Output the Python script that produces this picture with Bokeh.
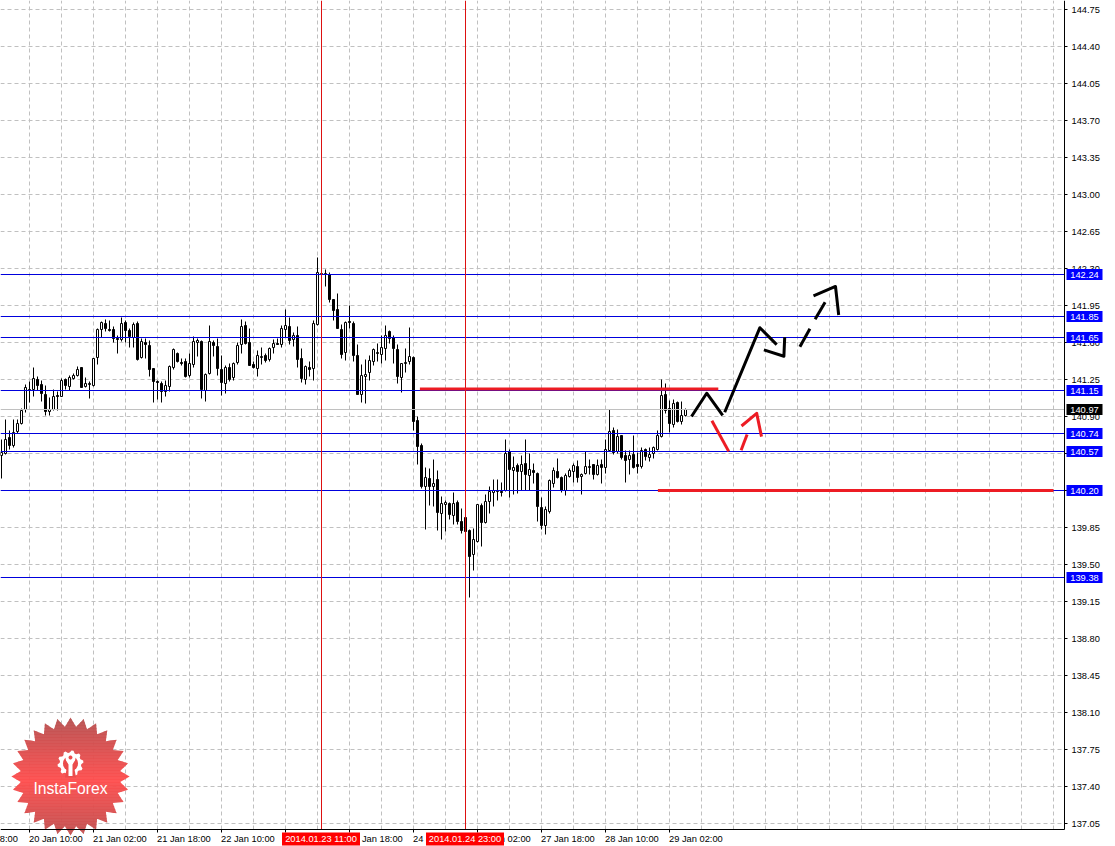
import math
from bokeh.plotting import figure
from bokeh.embed import file_html
from bokeh.resources import INLINE
from bokeh.core.properties import value
from bokeh.models import (FixedTicker, LinearAxis, Range1d, PrintfTickFormatter)

highs = [140.68,140.87,140.77,140.87,140.87,140.98,141.20,141.23,141.36,141.28,
141.24,141.19,141.08,141.16,141.14,141.26,141.26,141.29,141.31,141.37,
141.36,141.27,141.23,141.45,141.73,141.80,141.82,141.81,141.75,141.67,
141.84,141.81,141.73,141.79,141.80,141.64,141.64,141.62,141.35,141.24,
141.23,141.24,141.38,141.54,141.51,141.45,141.45,141.50,141.66,141.64,
141.62,141.31,141.76,141.62,141.64,141.48,141.38,141.40,141.41,141.60,
141.82,141.80,141.73,141.42,141.52,141.55,141.50,141.55,141.63,141.64,
141.76,141.91,141.84,141.69,141.75,141.54,141.38,141.42,141.81,142.40,
142.28,142.29,142.26,142.01,142.06,141.77,141.80,141.95,141.80,141.58,
141.39,141.44,141.48,141.54,141.59,141.67,141.76,141.71,141.67,141.58,
141.40,141.54,141.74,141.47,140.90,140.64,140.42,140.41,140.49,140.39,
140.14,140.11,140.09,140.18,140.11,140.03,139.94,139.83,139.84,140.07,
140.08,140.16,140.24,140.30,140.30,140.28,140.68,140.59,140.52,140.46,
140.53,140.68,140.55,140.46,140.37,140.13,140.05,140.30,140.42,140.50,
140.33,140.36,140.41,140.46,140.48,140.36,140.57,140.49,140.45,140.49,
140.49,140.68,140.97,140.80,140.78,140.72,140.58,140.58,140.72,140.56,
140.61,140.60,140.61,140.62,140.77,141.25,141.21,141.05,141.06,141.04,141.04,140.98]
lows = [140.31,140.54,140.59,140.61,140.74,140.82,140.94,141.03,141.09,141.15,
141.04,140.91,140.91,140.96,140.96,141.09,141.16,141.15,141.25,141.28,
141.17,141.17,141.07,141.18,141.39,141.65,141.70,141.70,141.60,141.50,
141.61,141.60,141.55,141.55,141.43,141.45,141.45,141.28,141.03,141.06,
141.03,141.09,141.14,141.34,141.41,141.38,141.27,141.27,141.36,141.47,
141.07,141.04,141.30,141.47,141.29,141.10,141.12,141.23,141.24,141.39,
141.50,141.58,141.38,141.35,141.28,141.39,141.41,141.42,141.50,141.58,
141.55,141.65,141.58,141.56,141.36,141.22,141.20,141.28,141.24,141.76,
142.24,142.13,141.98,141.81,141.73,141.45,141.43,141.73,141.42,141.11,
141.03,141.02,141.24,141.38,141.42,141.40,141.43,141.59,141.40,141.21,
141.13,141.32,141.39,140.77,140.45,140.22,139.83,140.06,140.05,139.82,
139.74,139.81,139.93,139.88,139.88,139.79,139.80,139.19,139.44,139.71,
139.67,139.89,139.98,140.05,140.11,140.14,140.19,140.13,140.16,140.17,
140.20,140.20,140.20,140.27,139.91,139.83,139.78,139.98,140.23,140.31,
140.18,140.15,140.32,140.28,140.28,140.16,140.35,140.35,140.30,140.34,
140.27,140.36,140.57,140.54,140.55,140.49,140.28,140.35,140.41,140.36,
140.41,140.48,140.47,140.50,140.58,140.70,140.93,140.75,140.80,140.84,140.82,140.90]
opens = [140.53,140.55,140.70,140.63,140.76,140.83,140.97,141.15,141.16,141.25,
141.20,141.11,140.95,140.97,141.10,141.09,141.25,141.18,141.26,141.29,
141.36,141.18,141.20,141.19,141.46,141.72,141.78,141.72,141.72,141.64,
141.63,141.79,141.71,141.65,141.78,141.46,141.60,141.57,141.35,141.23,
141.21,141.14,141.18,141.36,141.50,141.41,141.42,141.29,141.39,141.60,
141.61,141.15,141.31,141.60,141.56,141.34,141.21,141.36,141.27,141.41,
141.58,141.76,141.60,141.39,141.35,141.46,141.48,141.44,141.55,141.59,
141.58,141.72,141.75,141.63,141.67,141.45,141.25,141.36,141.35,141.77,
142.24,142.24,142.24,142.01,141.91,141.72,141.51,141.80,141.78,141.48,
141.11,141.28,141.32,141.42,141.50,141.49,141.54,141.70,141.65,141.53,
141.27,141.40,141.42,141.46,140.86,140.63,140.24,140.31,140.24,140.30,
139.98,140.07,140.08,139.96,140.09,139.91,139.94,139.82,139.59,139.72,
140.06,139.90,140.10,140.18,140.19,140.19,140.20,140.57,140.39,140.44,
140.38,140.46,140.34,140.39,140.36,140.04,139.87,140.00,140.27,140.38,
140.32,140.20,140.33,140.38,140.43,140.33,140.36,140.42,140.45,140.35,
140.45,140.42,140.58,140.77,140.57,140.72,140.53,140.49,140.54,140.45,
140.43,140.59,140.51,140.55,140.59,140.71,141.11,140.98,140.82,141.03,140.85,140.91]
closes = [140.56,140.68,140.63,140.75,140.83,140.96,141.17,141.16,141.26,141.19,
141.12,140.95,140.97,141.09,141.09,141.24,141.19,141.27,141.29,141.34,
141.17,141.21,141.21,141.45,141.72,141.79,141.73,141.71,141.64,141.63,
141.78,141.71,141.66,141.77,141.44,141.61,141.58,141.34,141.23,141.22,
141.14,141.19,141.37,141.53,141.42,141.40,141.28,141.40,141.61,141.62,
141.16,141.30,141.61,141.57,141.35,141.22,141.36,141.25,141.40,141.57,
141.75,141.59,141.38,141.36,141.48,141.47,141.43,141.54,141.59,141.58,
141.73,141.76,141.62,141.67,141.44,141.26,141.37,141.34,141.78,142.26,
142.25,142.25,142.01,141.90,141.73,141.49,141.79,141.79,141.48,141.11,
141.29,141.30,141.43,141.53,141.51,141.55,141.67,141.64,141.54,141.28,
141.40,141.41,141.47,140.85,140.62,140.24,140.32,140.24,140.27,139.99,
140.08,140.09,139.97,140.08,139.91,139.82,139.81,139.58,139.74,140.07,
139.90,140.10,140.19,140.20,140.20,140.18,140.55,140.40,140.42,140.38,
140.45,140.35,140.40,140.37,140.05,139.87,140.02,140.29,140.39,140.32,
140.20,140.34,140.39,140.44,140.32,140.35,140.43,140.43,140.35,140.44,
140.42,140.59,140.76,140.56,140.71,140.51,140.48,140.53,140.42,140.43,
140.58,140.52,140.54,140.61,140.72,141.10,140.96,140.83,141.02,140.85,140.91,140.97]

y_ticks = [137.05,137.40,137.75,138.10,138.45,138.80,139.15,139.50,139.85,140.20,140.55,140.90,
           141.25,141.60,141.95,142.30,142.65,143.00,143.35,143.70,144.05,144.40,144.75]
level_prices = [142.24,141.85,141.65,141.15,140.74,140.57,140.20,139.38]
level_labels = ["142.24","141.85","141.65","141.15","140.74","140.57","140.20","139.38"]
bid_price = 140.97
bid_label = "140.97"
cross_bars = [80, 116]
cross_labels = ["2014.01.23 11:00", "2014.01.24 23:00"]
x_tick_bars = [7,23,39,55,71,87,103,119,135,151,167]
x_tick_labels = ["20 Jan 10:00","21 Jan 02:00","21 Jan 18:00","22 Jan 10:00","23 Jan 02:00","23 Jan 18:00",
                 "24 Jan 10:00","27 Jan 02:00","27 Jan 18:00","28 Jan 10:00","29 Jan 02:00"]
first_tick_label = "19 Jan 18:00"
grid_bars = list(range(7, 264, 8))
red_level_x = [[104.6, 179.2], [164.1, 263.0]]
red_level_y = [[141.16, 141.16], [140.20, 140.20]]
black_x = [[172.5,176.3,180.3],[180.8,189.6,193.8],[190.6,195.6,195.8],[199.6,202.1],[203.4,205.9],[203.0,208.5,209.3]]
black_y = [[140.90,141.12,140.91],[140.94,141.74,141.58],[141.53,141.47,141.65],[141.56,141.73],[141.82,141.98],[142.04,142.13,141.86]]
red_x = [[177.6,181.8],[184.9,186.4],[185.0,188.8,190.0]]
red_y = [[140.86,140.57],[140.58,140.73],[140.81,140.93,140.71]]

W, H = 1107, 846        # drawing area
AX, AY = 1064, 829      # where the price and time axes sit
PX_PER_BAR = 4.0
PX_PER_UNIT = 37 / 0.35
Y_REF_PX = 823.0
def x_of(px): return (px - 1.0) / PX_PER_BAR
def y_of(py): return 137.05 + (Y_REF_PX - py) / PX_PER_UNIT
def py_of(price): return round(Y_REF_PX + (137.05 - price) * PX_PER_UNIT)
def snap(price): return y_of(py_of(price))

p = figure(frame_width=W, frame_height=H, output_backend="svg", toolbar_location=None,
           x_range=Range1d(x_of(0), x_of(W)), y_range=Range1d(y_of(H), y_of(0)),
           x_axis_location=None, y_axis_location="right",
           min_border_left=0, min_border_top=0, min_border_right=0, min_border_bottom=0,
           outline_line_color=None, background_fill_color="white", border_fill_color="white")
p.grid.visible = False

FONT = "Liberation Sans"
FS = "9.3px"
ya = p.yaxis[0]
ya.fixed_location = x_of(AX)
ya.bounds = (y_of(AY), y_of(0))
ya.ticker = FixedTicker(ticks=y_ticks)
ya.formatter = PrintfTickFormatter(format="%.2f")
ya.axis_line_color = "black"; ya.major_tick_line_color = "black"
ya.major_tick_in = 0; ya.major_tick_out = 3; ya.minor_tick_line_color = None
ya.major_label_standoff = 4
ya.major_label_text_font = FONT; ya.major_label_text_font_size = FS; ya.major_label_text_color = "black"

xa = LinearAxis(ticker=FixedTicker(ticks=x_tick_bars), axis_line_color="black", major_tick_line_color="black",
                major_tick_in=0, major_tick_out=3, minor_tick_line_color=None,
                major_label_overrides={b: "" for b in x_tick_bars},
                major_label_text_font_size="1px", major_label_standoff=0,
                fixed_location=y_of(AY), bounds=(x_of(0), x_of(AX)))
p.add_layout(xa, "below")
half_label = 6.6
offs = [b + half_label for b in x_tick_bars]
xl = LinearAxis(ticker=FixedTicker(ticks=offs), axis_line_color=None, major_tick_line_color=None,
                minor_tick_line_color=None, major_tick_in=0, major_tick_out=0, major_label_standoff=4,
                major_label_overrides=dict(zip(offs, x_tick_labels)),
                major_label_text_font=FONT, major_label_text_font_size=FS, major_label_text_color="black",
                fixed_location=y_of(AY))
p.add_layout(xl, "below")

# grid
GRID = dict(line_color="#c0c0c0", line_dash="4 3", line_width=1)
p.segment(grid_bars, [y_of(AY)] * len(grid_bars), grid_bars, [y_of(0)] * len(grid_bars), **GRID)
p.segment([x_of(0)] * len(y_ticks), y_ticks, [x_of(AX)] * len(y_ticks), y_ticks, **GRID)

# seal logo with banded vertical gradient
cx, cy, R1, R2, N = 70.0, 776.0, 59.0, 50.0, 28
star = []
for k in range(2 * N):
    r = R1 if k % 2 == 0 else R2
    a = math.pi * k / N + math.pi / 2
    star.append((cx + r * math.cos(a), cy - r * math.sin(a)))
def clip(poly, y, keep_below):
    out = []
    ins = (lambda q: q[1] >= y) if keep_below else (lambda q: q[1] <= y)
    for i in range(len(poly)):
        a, b = poly[i], poly[(i + 1) % len(poly)]
        if ins(a): out.append(a)
        if ins(a) != ins(b):
            t = (y - a[1]) / (b[1] - a[1])
            out.append((a[0] + t * (b[0] - a[0]), y))
    return out
def band_color(y):
    t = min(abs(y - 780) / 60.0, 1)
    return "#%02x%02x%02x" % (int(255 - 70 * t), int(75 + 5 * t), int(75 + 5 * t))
bx, by, bc = [], [], []
y0 = 716
while y0 < 836:
    band = clip(clip(star, y0, True), y0 + 3.4, False)
    if len(band) >= 3:
        bx.append([x_of(q[0]) for q in band]); by.append([y_of(q[1]) for q in band]); bc.append(band_color(y0 + 1.5))
    y0 += 3
p.patches(bx, by, fill_color=bc, fill_alpha=0.94, line_color=None)

# candles
idx = list(range(len(opens)))
sO, sC, sH, sL = [list(map(snap, a)) for a in (opens, closes, highs, lows)]
p.segment(idx, sL, idx, sH, line_color="black", line_width=1)
bull = [i for i in idx if closes[i] >= opens[i]]
bear = [i for i in idx if closes[i] < opens[i]]
p.vbar(bull, 0.5, [sO[i] for i in bull], [sC[i] for i in bull], fill_color="white", line_color="black", line_width=1)
p.vbar(bear, 0.5, [sC[i] for i in bear], [sO[i] for i in bear], fill_color="black", line_color="black", line_width=1)

# levels
xa0, xa1 = x_of(0), x_of(AX)
p.segment([xa0], [snap(bid_price)], [xa1], [snap(bid_price)], line_color="#c0c0c0", line_width=1)
n = len(level_prices)
sl = [snap(v) for v in level_prices]
p.segment([xa0] * n, sl, [xa1] * n, sl, line_color="#0000dd", line_width=1)
p.segment(cross_bars, [y_of(AY)] * 2, cross_bars, [y_of(0)] * 2, line_color="#dd1111", line_width=1)
p.multi_line(red_level_x, red_level_y, line_color="#ed1c24", line_width=3)
p.multi_line(black_x, black_y, line_color="black", line_width=3, line_join="round")
p.multi_line(red_x, red_y, line_color="#ed1c24", line_width=3, line_join="round")

# logo gear and text
gx, gy = 70.0, 763.0
hole_color = band_color(763)
def ring(r, m=28, yc=gy):
    return [(gx + r * math.cos(2 * math.pi * k / m), yc - r * math.sin(2 * math.pi * k / m)) for k in range(m)]
def fill(points, color):
    p.patch([x_of(q[0]) for q in points], [y_of(q[1]) for q in points], fill_color=color, line_color=None)
gear = []
for k in range(40):
    r = 13.0 if k % 4 in (0, 1) else 10.8
    a = 2 * math.pi * k / 40 + 0.08
    gear.append((gx + r * math.cos(a), gy - r * math.sin(a)))
fill(gear, "white")
fill(ring(7.5), hole_color)
fill([(gx - 3.5, gy + 3), (gx + 3.5, gy + 3), (gx + 5.5, gy + 14), (gx - 5.5, gy + 14)], hole_color)
fill([(gx - 5, gy - 4), (gx + 5, gy - 4), (gx + 2, gy + 1), (gx + 2, gy + 12.5), (gx - 2, gy + 12.5), (gx - 2, gy + 1)], "white")
fill(ring(5, yc=gy - 6), "white")
fill(ring(2, 14, yc=gy - 6), hole_color)
p.text([x_of(70)], [y_of(788)], text=["InstaForex"], text_color="white", text_font=value(FONT),
       text_font_size="15.7px", text_align="center", text_baseline="middle")

def box(x0, x1, y0, y1, color):
    p.quad([x_of(x0)], [x_of(x1)], [y_of(y0)], [y_of(y1)], fill_color=color, line_color=None, level="overlay")
def ctext(x, y, txt, color="white"):
    p.text([x_of(x)], [y_of(y)], text=[txt], text_color=color, text_font=value(FONT), text_font_size=FS,
           text_align="center", text_baseline="middle", level="overlay")

# price tags
def tag(price, txt, bg):
    py = py_of(price)
    box(1066, 1102, py - 5.5, py + 5.5, bg)
    ctext(1084, py + 0.5, txt)
tag(bid_price, bid_label, "black")
for pr, tx in zip(level_prices, level_labels):
    tag(pr, tx, "#0000ff")

# bottom labels
ctext(-9.5, 838.5, first_tick_label, "black")
for b, tx in zip(cross_bars, cross_labels):
    cx0 = 1 + b * PX_PER_BAR + 0.5
    box(cx0 - 40, cx0 + 38, 832, 845, "#ff0000")
    ctext(cx0 - 1, 838.5, tx)

open("out.html", "w").write(file_html(p, INLINE))
